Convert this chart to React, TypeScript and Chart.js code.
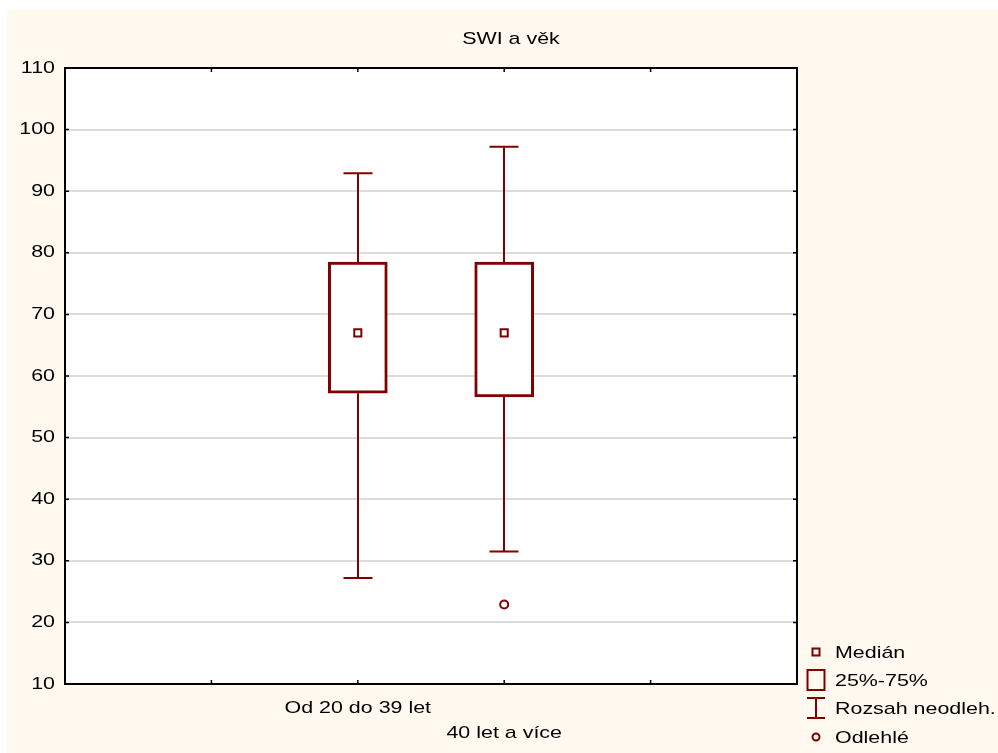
import React, { useEffect, useRef } from "react";
import { Chart, registerables } from "chart.js";

Chart.register(...registerables);

// ---- data ----
const chartTitle = "SWI a věk";
const categories = ["Od 20 do 39 let", "40 let a více"];
const categoryPositions = [2, 3];
const whiskerLow = [27.2, 31.5];
const q1 = [57.2, 56.6];
const median = [67.0, 67.0];
const q3 = [78.5, 78.5];
const whiskerHigh = [92.9, 97.2];
const outlierValues = [[] as number[], [22.9]];
const xRange = [0, 5];
const yRange = [10, 110];
const yStep = 10;
const legendLabels = ["Medián", "25%-75%", "Rozsah neodleh.", "Odlehlé"];

const DARK = "#800000";
const FONT = "'Liberation Sans', Arial, sans-serif";
const STRETCH = 1.26;

function stretchedText(ctx: any, text: string, x: number, y: number, align: string) {
  ctx.save();
  ctx.translate(x, y);
  ctx.scale(STRETCH, 1);
  ctx.textAlign = align;
  ctx.fillText(text, 0, 0);
  ctx.restore();
}

const framePlugin = {
  id: "statFrame",
  beforeDraw(chart: any) {
    const ctx = chart.ctx;
    ctx.save();
    ctx.fillStyle = "#ffffff";
    ctx.fillRect(0, 0, chart.width, chart.height);
    ctx.fillStyle = "#fff9ef";
    ctx.fillRect(7, 10, chart.width - 7, chart.height - 10);
    const a = chart.chartArea;
    ctx.fillStyle = "#ffffff";
    ctx.fillRect(a.left, a.top, a.right - a.left, a.bottom - a.top);
    ctx.restore();
  },
  beforeDatasetsDraw(chart: any) {
    const ctx = chart.ctx;
    const xs = chart.scales.x;
    const ys = chart.scales.y;
    ctx.save();
    ctx.strokeStyle = DARK;
    ctx.lineWidth = 2;
    const cap = 14.5;
    categoryPositions.forEach((p, i) => {
      const x = Math.round(xs.getPixelForValue(p));
      const yLo = ys.getPixelForValue(whiskerLow[i]);
      const yQ1 = ys.getPixelForValue(q1[i]);
      const yQ3 = ys.getPixelForValue(q3[i]);
      const yHi = ys.getPixelForValue(whiskerHigh[i]);
      ctx.beginPath();
      ctx.moveTo(x, yLo);
      ctx.lineTo(x, yQ1);
      ctx.moveTo(x, yQ3);
      ctx.lineTo(x, yHi);
      ctx.moveTo(x - cap, yLo);
      ctx.lineTo(x + cap, yLo);
      ctx.moveTo(x - cap, yHi);
      ctx.lineTo(x + cap, yHi);
      ctx.stroke();
    });
    ctx.restore();
  },
  afterDraw(chart: any) {
    const ctx = chart.ctx;
    const a = chart.chartArea;
    const xs = chart.scales.x;
    const ys = chart.scales.y;
    ctx.save();
    // frame
    ctx.strokeStyle = "#000";
    ctx.lineWidth = 2;
    ctx.strokeRect(a.left, a.top, a.right - a.left, a.bottom - a.top);
    // inward ticks
    ctx.lineWidth = 1.5;
    ctx.beginPath();
    for (let v = yRange[0]; v <= yRange[1]; v += yStep) {
      const y = ys.getPixelForValue(v);
      ctx.moveTo(a.left, y);
      ctx.lineTo(a.left + 4, y);
      ctx.moveTo(a.right, y);
      ctx.lineTo(a.right - 4, y);
    }
    for (let v = xRange[0] + 1; v < xRange[1]; v++) {
      const x = xs.getPixelForValue(v);
      ctx.moveTo(x, a.bottom);
      ctx.lineTo(x, a.bottom - 4);
      ctx.moveTo(x, a.top);
      ctx.lineTo(x, a.top + 4);
    }
    ctx.stroke();

    ctx.fillStyle = "#000";
    ctx.font = `17px ${FONT}`;
    ctx.textBaseline = "middle";

    // y tick labels
    for (let v = yRange[0]; v <= yRange[1]; v += yStep) {
      stretchedText(ctx, String(v), a.left - 10, ys.getPixelForValue(v), "right");
    }

    // title
    stretchedText(ctx, chartTitle, 511, 39, "center");

    // category labels (staggered)
    categories.forEach((c, i) => {
      const x = xs.getPixelForValue(categoryPositions[i]);
      stretchedText(ctx, c, x, a.bottom + 24 + i * 25, "center");
    });

    // legend
    const mx = 816;
    const tx = 835;
    const rows = [652, 680, 708, 737];
    legendLabels.forEach((l, i) => stretchedText(ctx, l, tx, rows[i] + 1, "left"));
    ctx.strokeStyle = DARK;
    ctx.lineWidth = 2;
    ctx.strokeRect(mx - 3.5, rows[0] - 3.5, 7, 7);
    ctx.strokeRect(mx - 8.5, rows[1] - 10, 17, 20);
    ctx.beginPath();
    ctx.moveTo(mx, rows[2] - 10);
    ctx.lineTo(mx, rows[2] + 10);
    ctx.moveTo(mx - 9, rows[2] - 10);
    ctx.lineTo(mx + 9, rows[2] - 10);
    ctx.moveTo(mx - 9, rows[2] + 10);
    ctx.lineTo(mx + 9, rows[2] + 10);
    ctx.stroke();
    ctx.beginPath();
    ctx.arc(mx, rows[3], 3.5, 0, Math.PI * 2);
    ctx.stroke();
    ctx.restore();
  },
};

export default function App() {
  const ref = useRef<HTMLCanvasElement | null>(null);
  useEffect(() => {
    if (!ref.current) return;
    const outlierPoints: { x: number; y: number }[] = [];
    outlierValues.forEach((arr, i) =>
      arr.forEach((v) => outlierPoints.push({ x: categoryPositions[i], y: v }))
    );
    const chart = new Chart(ref.current, {
      type: "bar",
      data: {
        datasets: [
          {
            type: "scatter",
            label: "Medián",
            data: categoryPositions.map((p, i) => ({ x: p, y: median[i] })),
            pointStyle: "rect",
            pointRadius: 5,
            borderColor: DARK,
            backgroundColor: "#fff",
            borderWidth: 2,
            order: 1,
          } as any,
          {
            type: "scatter",
            label: "Odlehlé",
            data: outlierPoints,
            pointStyle: "circle",
            pointRadius: 4,
            borderColor: DARK,
            backgroundColor: "#fff",
            borderWidth: 2,
            order: 1,
          } as any,
          {
            type: "bar",
            label: "25%-75%",
            data: categoryPositions.map((p, i) => ({ x: p, y: [q1[i], q3[i]] })),
            backgroundColor: "#fff",
            borderColor: DARK,
            borderWidth: 3,
            borderSkipped: false,
            barThickness: 59,
            order: 3,
          } as any,
        ],
      },
      options: {
        responsive: false,
        animation: false,
        events: [],
        layout: { padding: { top: 68, right: 201, left: 0, bottom: 0 } },
        plugins: {
          legend: { display: false },
          title: { display: false },
          tooltip: { enabled: false },
        },
        scales: {
          x: {
            type: "linear",
            min: xRange[0],
            max: xRange[1],
            offset: false,
            grid: { display: false, drawTicks: false },
            border: { display: false },
            ticks: { display: false },
            afterFit: (s: any) => {
              s.height = 69;
            },
          },
          y: {
            type: "linear",
            min: yRange[0],
            max: yRange[1],
            grid: { color: "#dcdcdc", lineWidth: 2, drawTicks: false },
            border: { display: false },
            ticks: { display: false, stepSize: yStep },
            afterFit: (s: any) => {
              s.width = 65;
            },
          },
        },
      } as any,
      plugins: [framePlugin],
    });
    return () => chart.destroy();
  }, []);
  return (
    <div style={{ position: "absolute", left: 0, top: 0, width: 998, height: 753 }}>
      <canvas ref={ref} width={998} height={753} />
    </div>
  );
}
